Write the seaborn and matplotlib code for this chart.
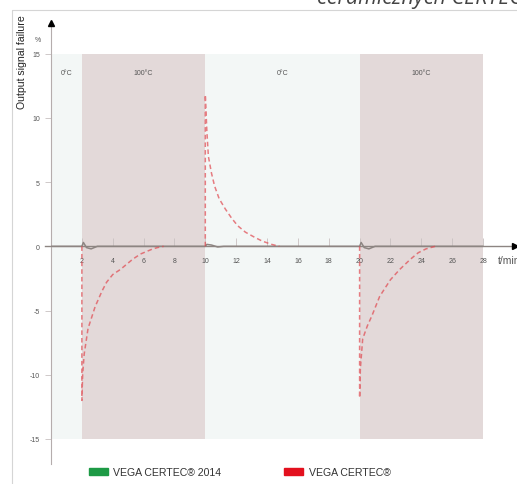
import matplotlib
matplotlib.use("Agg")
import matplotlib.pyplot as plt
import seaborn as sns
import pandas as pd
from matplotlib.patches import Patch
from matplotlib.lines import Line2D

# temperature phases (minutes)
phase_edges = [0, 2, 10, 20, 28]
phase_labels = ["0°C", "100°C", "0°C", "100°C"]

# VEGA CERTEC (red, dashed), one list per temperature jump
red_t1 = [2, 2, 2.05, 2.15, 2.4, 2.86, 3.3, 3.6, 4.0, 4.5, 5.0, 5.3, 5.8, 6.2, 6.6, 6.9, 7.3]
red_v1 = [0, -12, -10, -8.4, -6.4, -4.7, -3.5, -2.8, -2.2, -1.8, -1.3, -1.0, -0.6, -0.4, -0.2, -0.1, 0]
red_t2 = [10, 10, 10.1, 10.2, 10.4, 10.6, 10.9, 11.3, 11.7, 12.1, 12.6, 13.2, 13.7, 14.3, 14.8]
red_v2 = [0, 11.8, 9.0, 7.0, 5.7, 4.7, 3.7, 2.9, 2.2, 1.6, 1.1, 0.7, 0.4, 0.15, 0]
red_t3 = [20, 20, 20.05, 20.2, 20.5, 20.8, 21.3, 22.0, 22.6, 23.3, 23.8, 24.3, 24.9]
red_v3 = [0, -11.8, -9.5, -7.2, -6.2, -5.4, -3.9, -2.6, -1.8, -1.0, -0.5, -0.2, 0]

# VEGA CERTEC 2014 (stays at zero, small ripple at each jump)
green_t = [0, 2, 2.1, 2.3, 2.6, 3.0, 10, 10.1, 10.4, 10.8, 11.2, 20, 20.1, 20.3, 20.6, 21.0, 28]
green_v = [0, 0, 0.3, -0.1, -0.2, 0, 0, 0.15, 0.1, -0.05, 0, 0, 0.3, -0.1, -0.2, 0, 0]

xticks = list(range(2, 29, 2))
yticks = [-15, -10, -5, 0, 5, 10, 15]

sns.set_style("white")
plt.rcParams["font.family"] = ["Liberation Sans", "DejaVu Sans"]

fig = plt.figure(figsize=(5.17, 4.85), dpi=100)
ax = fig.add_axes([51 / 517, 20 / 485, 466 / 517, 445 / 485])
ax.set_xlim(0, 30.2)
ax.set_ylim(-16.95, 17.7)
ax.set_facecolor("none")

pink = "#e3d9d9"
light = "#f3f7f6"
for i, lab in enumerate(phase_labels):
    c = pink if lab == "100°C" else light
    ax.fill_between([phase_edges[i], phase_edges[i + 1]], -15, 15, color=c, lw=0, zorder=0)
    ax.text((phase_edges[i] + phase_edges[i + 1]) / 2, 13.5, lab, ha="center", va="center",
            fontsize=5, color="#555555")

green_df = pd.DataFrame({"t": green_t, "v": green_v})
sns.lineplot(data=green_df, x="t", y="v", ax=ax, color="#8d8582", lw=1.1,
             estimator=None, sort=False, zorder=3)

red_col = "#e0484f"
for tt, vv in [(red_t1, red_v1), (red_t2, red_v2), (red_t3, red_v3)]:
    df = pd.DataFrame({"t": tt, "v": vv})
    sns.lineplot(data=df, x="t", y="v", ax=ax, color=red_col, lw=1.1, alpha=0.7,
                 linestyle=(0, (3, 2)), estimator=None, sort=False, zorder=4)

# axes through the origin
for s in ["top", "right"]:
    ax.spines[s].set_visible(False)
ax.spines["bottom"].set_position(("data", 0))
ax.spines["left"].set_position(("data", 0))
ax.spines["bottom"].set_bounds(-0.4, 30.0)
ax.spines["left"].set_bounds(-16.95, 17.3)
ax.spines["bottom"].set_color("#8d8582")
ax.spines["bottom"].set_linewidth(1.0)
ax.spines["left"].set_color("#b5adad")
ax.spines["left"].set_linewidth(0.8)
ax.spines["bottom"].set_zorder(2)

ax.set_xticks(xticks)
ax.set_xticklabels([str(v) for v in xticks])
ax.set_yticks(yticks)
ax.set_yticklabels([str(v) for v in yticks])
ax.tick_params(axis="x", direction="in", length=6, width=0.6, color="#c8c0c0",
               labelsize=5, labelcolor="#555555", pad=8, bottom=True)
ax.tick_params(axis="y", direction="out", length=4.5, width=0.6, color="#c8c0c0",
               labelsize=5, labelcolor="#555555", pad=3.5, left=True)
ax.set_xlabel("")
ax.set_ylabel("")

# arrow heads
ax.plot([30.05], [0], marker=">", color="black", ms=4, clip_on=False, zorder=6)
ax.plot([0], [17.4], marker="^", color="black", ms=4, clip_on=False, zorder=6)
ax.text(28.95, -1.05, "t/min", fontsize=7.5, color="#555555", va="center", ha="left",
        clip_on=False)

fig.text(22 / 517, 1 - 62 / 485, "Output signal failure", rotation=90, fontsize=7.6,
         ha="center", va="center", color="#222222")
fig.text(38 / 517, 1 - 40 / 485, "%", fontsize=5, ha="center", va="center", color="#555555")

# legend
handles = [Patch(color="#1d9a45", label="VEGA CERTEC® 2014"),
           Patch(color="#e3101e", label="VEGA CERTEC®")]
fig.legend(handles=handles, loc="center left", bbox_to_anchor=(79 / 517, 1 - 473 / 485),
           ncol=2, frameon=False, fontsize=7.6, handlelength=1.8, handleheight=0.7,
           handletextpad=0.5, columnspacing=6.0, labelcolor="#333333")

# page frame and cut-off heading of the surrounding page
fig.add_artist(Line2D([12 / 517, 1], [1 - 11 / 485, 1 - 11 / 485], color="#d5d5d5", lw=0.8))
fig.add_artist(Line2D([12 / 517, 12 / 517], [0, 1 - 11 / 485], color="#d5d5d5", lw=0.8))
fig.text(522 / 517, 1 - 4 / 485, "ceramicznych CERTEC", fontsize=15.5, style="italic",
         family="Open Sans", ha="right", va="baseline", color="#444444")

fig.savefig("out.png", dpi=100)
